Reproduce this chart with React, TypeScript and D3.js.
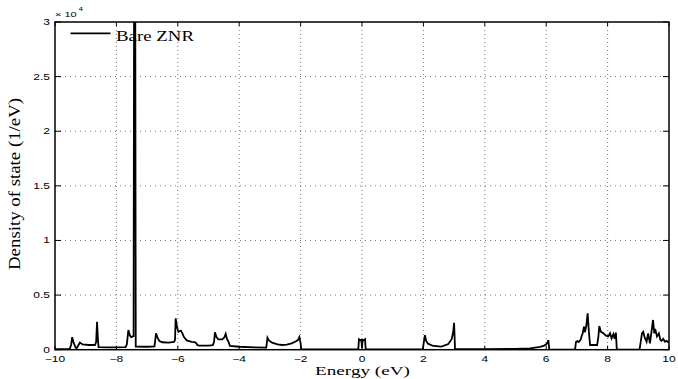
import React from "react";
import * as d3 from "d3";

const energy: number[] = [
  -10, -9.52, -9.47, -9.44, -9.4, -9.33, -9.29, -9.22, -9.19, -9.1, -8.9, -8.7, -8.66, -8.63, -8.6, -8.58,
  -8.2, -7.7, -7.66, -7.61, -7.56, -7.52, -7.44, -7.425, -7.385, -7.37, -7.0, -6.76, -6.73, -6.71, -6.66, -6.6,
  -6.5, -6.3, -6.12, -6.09, -6.07, -6.02, -5.98, -5.9, -5.85, -5.8, -5.71, -5.55, -5.45, -5.4, -5.36, -5.3,
  -5.0, -4.86, -4.82, -4.79, -4.74, -4.68, -4.55, -4.48, -4.44, -4.4, -4.35, -4.3, -4.0, -3.5, -3.12, -3.1,
  -3.08, -3.03, -2.93, -2.75, -2.61, -2.45, -2.29, -2.15, -2.08, -2.04, -2.0, -1.98, -1.0, -0.12, -0.1, -0.06,
  -0.02, 0.0, 0.02, 0.06, 0.1, 0.12, 1.0, 1.98, 2.03, 2.05, 2.09, 2.15, 2.32, 2.59, 2.81, 2.92,
  2.97, 3.0, 3.03, 4.0, 5.0, 5.47, 5.8, 5.91, 6.0, 6.05, 6.07, 6.1, 6.94, 6.97, 7.02, 7.06,
  7.12, 7.16, 7.19, 7.23, 7.26, 7.31, 7.35, 7.39, 7.43, 7.66, 7.7, 7.73, 7.78, 7.86, 7.95, 8.02,
  8.08, 8.13, 8.19, 8.23, 8.27, 8.3, 9.04, 9.08, 9.12, 9.16, 9.21, 9.27, 9.32, 9.38, 9.43, 9.48,
  9.52, 9.55, 9.61, 9.67, 9.72, 9.76, 9.81, 9.87, 9.92, 10,
];

const dos: number[] = [
  50, 60, 500, 1150, 700, 200, 150, 500, 650, 480, 430, 430, 700, 2560, 800, 230,
  220, 230, 500, 1800, 1300, 1150, 1250, 30500, 30500, 280, 270, 300, 1000, 1500, 1100, 800,
  680, 650, 720, 900, 2870, 2000, 1650, 1750, 1500, 1150, 850, 720, 700, 600, 420, 380,
  370, 420, 700, 1600, 1150, 950, 950, 1150, 1450, 1000, 730, 340, 270, 220, 190, 600,
  1100, 850, 640, 480, 430, 460, 580, 780, 900, 1150, 600, 40, 30, 30, 950, 860,
  900, 150, 900, 860, 950, 30, 30, 40, 1000, 1340, 800, 550, 340, 290, 520, 960,
  1600, 2470, 60, 40, 70, 130, 260, 340, 500, 700, 890, 0, 0, 730, 800, 700,
  900, 1300, 1500, 2100, 1600, 2260, 3330, 1650, 430, 430, 1200, 2170, 1650, 1500, 1280, 1220,
  1500, 1040, 1440, 1000, 1560, 0, 0, 730, 1500, 1650, 1100, 730, 1500, 580, 1650, 2720,
  1500, 1900, 1220, 1500, 900, 820, 1000, 730, 820, 640,
];

const xTicks: number[] = [-10, -8, -6, -4, -2, 0, 2, 4, 6, 8, 10];
const yTicks: number[] = [0, 5000, 10000, 15000, 20000, 25000, 30000];
const yTickLabels: string[] = ["0", "0.5", "1", "1.5", "2", "2.5", "3"];
const legendLabel = "Bare ZNR";
const xLabel = "Energy (eV)";
const yLabel = "Density of state (1/eV)";

const W = 678;
const H = 379;
const L = 55;
const R = 669;
const T = 22;
const B = 349.7;
const SY = 0.72;

export default function App() {
  const x = d3.scaleLinear().domain([-10, 10]).range([L, R]);
  const y = d3.scaleLinear().domain([0, 30000]).range([B, T]);
  const pts: [number, number][] = energy.map((e, i) => [e, dos[i]]);
  const line = d3
    .line<[number, number]>()
    .x((d) => x(d[0]))
    .y((d) => y(d[1]));
  const sans = "'Liberation Sans', Arial, sans-serif";
  const serif = "'Liberation Serif', 'Times New Roman', serif";

  return (
    <svg
      width={W}
      height={H}
      style={{ position: "absolute", left: 0, top: 0, background: "#fff" }}
    >
      <defs>
        <clipPath id="plotclip">
          <rect x={L} y={T} width={R - L} height={B - T} />
        </clipPath>
      </defs>
      <rect x={0} y={0} width={W} height={H} fill="#fff" />
      {xTicks.slice(1, -1).map((t) => (
        <line
          key={"gx" + t}
          x1={x(t)}
          x2={x(t)}
          y1={T}
          y2={B}
          stroke="#777"
          strokeWidth={1}
          strokeDasharray="1,3"
        />
      ))}
      {yTicks.slice(1, -1).map((t) => (
        <line
          key={"gy" + t}
          x1={L}
          x2={R}
          y1={y(t)}
          y2={y(t)}
          stroke="#777"
          strokeWidth={1}
          strokeDasharray="1,4"
        />
      ))}
      {xTicks.map((t) => (
        <g key={"tx" + t}>
          <line x1={x(t)} x2={x(t)} y1={B} y2={B - 4} stroke="#000" strokeWidth={1} />
          <line x1={x(t)} x2={x(t)} y1={T} y2={T + 4} stroke="#000" strokeWidth={1} />
        </g>
      ))}
      {yTicks.map((t) => (
        <g key={"ty" + t}>
          <line x1={L} x2={L + 6} y1={y(t)} y2={y(t)} stroke="#000" strokeWidth={1} />
          <line x1={R} x2={R - 6} y1={y(t)} y2={y(t)} stroke="#000" strokeWidth={1} />
        </g>
      ))}
      <path
        d={line(pts) || ""}
        fill="none"
        stroke="#000"
        strokeWidth={1.8}
        strokeLinejoin="miter"
        clipPath="url(#plotclip)"
      />
      <rect x={L} y={T} width={R - L} height={B - T} fill="none" stroke="#000" strokeWidth={1.5} />
      {xTicks.map((t) => (
        <text
          key={"lx" + t}
          transform={`translate(${x(t)},${362}) scale(1,${SY})`}
          textAnchor="middle"
          fontFamily={sans}
          fontSize={12}
          fill="#000"
        >
          {t < 0 ? "\u2212" + Math.abs(t) : String(t)}
        </text>
      ))}
      {yTicks.map((t, i) => (
        <text
          key={"ly" + t}
          transform={`translate(${L - 5},${y(t) + 3}) scale(1,${SY})`}
          textAnchor="end"
          fontFamily={sans}
          fontSize={12}
          fill="#000"
        >
          {yTickLabels[i]}
        </text>
      ))}
      <text transform={`translate(55,16.5) scale(1,${SY})`} fontFamily={sans} fontSize={11} fill="#000">
        × 10
      </text>
      <text transform={`translate(78.5,11) scale(1,${SY})`} fontFamily={sans} fontSize={8} fill="#000">
        4
      </text>
      <line x1={70.5} x2={110.5} y1={33.3} y2={33.3} stroke="#000" strokeWidth={1.8} />
      <text
        transform={`translate(116,40.5) scale(1,0.85)`}
        fontFamily={serif}
        fontSize={17}
        textLength={78}
        lengthAdjust="spacingAndGlyphs"
        fill="#000"
      >
        {legendLabel}
      </text>
      <text
        transform={`translate(362.5,375) scale(1,${SY})`}
        textAnchor="middle"
        fontFamily={serif}
        fontSize={18}
        textLength={95}
        lengthAdjust="spacingAndGlyphs"
        fill="#000"
      >
        {xLabel}
      </text>
      <text
        transform={`translate(20,184) rotate(-90)`}
        textAnchor="middle"
        fontFamily={serif}
        fontSize={16}
        textLength={172}
        lengthAdjust="spacingAndGlyphs"
        fill="#000"
      >
        {yLabel}
      </text>
    </svg>
  );
}
